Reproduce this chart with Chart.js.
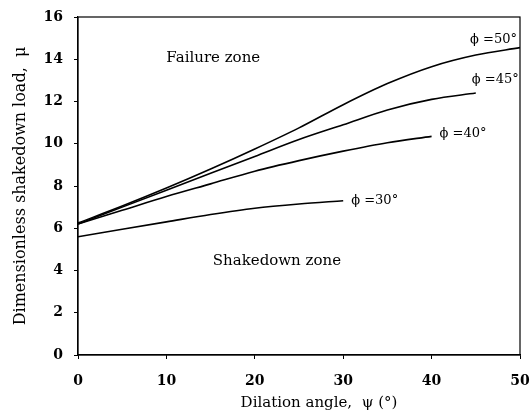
<!DOCTYPE html>
<html><head><meta charset="utf-8">
<script src="https://cdn.jsdelivr.net/npm/chart.js@4/dist/chart.umd.min.js"></script>
<style>html,body{margin:0;padding:0;background:#fff}#wrap{width:531px;height:415px}</style>
</head><body><div id="wrap"><canvas id="c" width="531" height="415"></canvas></div>
<script>
const psi30 = [0, 5, 10, 15, 20, 25, 30];
const mu30  = [5.6, 5.95, 6.3, 6.65, 6.95, 7.15, 7.3];
const psi40 = [0, 5, 10, 15, 20, 25, 30, 35, 40];
const mu40  = [6.2, 6.85, 7.5, 8.1, 8.7, 9.2, 9.65, 10.05, 10.35];
const psi45 = [0, 5, 10, 15, 20, 25, 30, 35, 40, 45];
const mu45  = [6.2, 7.0, 7.8, 8.6, 9.4, 10.2, 10.9, 11.6, 12.1, 12.4];
const psi50 = [0, 5, 10, 15, 20, 25, 30, 35, 40, 45, 50];
const mu50  = [6.25, 7.05, 7.9, 8.8, 9.75, 10.75, 11.85, 12.85, 13.65, 14.2, 14.55];
const seriesLabels = ['ϕ =30°', 'ϕ =40°', 'ϕ =45°', 'ϕ =50°'];
const xTicks = [0, 10, 20, 30, 40, 50];
const yTicks = [0, 2, 4, 6, 8, 10, 12, 14, 16];
const xTitle = 'Dilation angle,  ψ (°)';
const yTitle = 'Dimensionless shakedown load,  μ';
const zoneLabels = [
  {text: 'Failure zone', x: 15.3, y: 14.06},
  {text: 'Shakedown zone', x: 22.5, y: 4.45}
];

const pts = (xs, ys) => xs.map((x, i) => ({x, y: ys[i]}));
const serif = '"DejaVu Serif", "Liberation Serif", serif';

const mk = (label, xs, ys) => ({
  label, data: pts(xs, ys), borderColor: '#000', borderWidth: 1.6,
  pointRadius: 0, fill: false, cubicInterpolationMode: 'monotone'
});

const labelPlugin = {
  id: 'labels',
  afterDatasetsDraw(chart) {
    const {ctx, chartArea: a, scales: {x, y}} = chart;
    ctx.save();
    ctx.strokeStyle = '#000'; ctx.lineWidth = 1.2;
    ctx.strokeRect(a.left, a.top, a.right - a.left, a.bottom - a.top);
    ctx.fillStyle = '#000';
    ctx.font = '15px ' + serif;
    ctx.textBaseline = 'middle';
    ctx.textAlign = 'center';
    zoneLabels.forEach(z => ctx.fillText(z.text, x.getPixelForValue(z.x), y.getPixelForValue(z.y)));
    // x axis title
    ctx.fillText(xTitle, (a.left + a.right) / 2 + 20, a.bottom + 48);
    ctx.textAlign = 'left';
    ctx.font = '13px ' + serif;
    chart.data.datasets.forEach((ds, i) => {
      const last = ds.data[ds.data.length - 1];
      let px = x.getPixelForValue(last.x) + 8;
      let py = y.getPixelForValue(last.y);
      if (last.x >= 50) { px = x.getPixelForValue(last.x) - 50; py -= 8; }
      else if (last.x >= 45) { px = x.getPixelForValue(last.x) - 4; py -= 13; }
      else if (last.x >= 40) { py -= 3; }
      ctx.fillText(ds.label, px, py);
    });
    ctx.restore();
  }
};

new Chart(document.getElementById('c'), {
  type: 'line',
  data: { datasets: [mk(seriesLabels[0], psi30, mu30), mk(seriesLabels[1], psi40, mu40), mk(seriesLabels[2], psi45, mu45), mk(seriesLabels[3], psi50, mu50)] },
  options: {
    responsive: false, animation: false,
    layout: { padding: { top: 17, right: 11, left: 11, bottom: 0 } },
    plugins: { legend: { display: false }, tooltip: { enabled: false } },
    scales: {
      x: {
        type: 'linear', min: 0, max: 50,
        afterBuildTicks: s => { s.ticks = xTicks.map(v => ({value: v})); },
        afterFit: s => { s.height = 60; s.paddingLeft = 0; s.paddingRight = 0; },
        grid: { drawOnChartArea: false, drawTicks: true, tickLength: 4, color: '#000' },
        border: { display: true, color: '#000', width: 1.2 },
        ticks: { color: '#000', font: { family: serif, size: 14, weight: 'bold' }, padding: 14, maxRotation: 0 },
        title: { display: false }
      },
      y: {
        min: 0, max: 16,
        afterBuildTicks: s => { s.ticks = yTicks.map(v => ({value: v})); },
        afterFit: s => { s.width = 67; s.paddingTop = 0; s.paddingBottom = 0; },
        grid: { drawOnChartArea: false, drawTicks: true, tickLength: 4, color: '#000' },
        border: { display: true, color: '#000', width: 1.2 },
        ticks: { color: '#000', font: { family: serif, size: 14, weight: 'bold' }, padding: 11 },
        title: { display: true, text: yTitle, color: '#000', font: { family: serif, size: 16 }, padding: { top: 0, bottom: 4 } }
      }
    }
  },
  plugins: [labelPlugin]
});
</script></body></html>
